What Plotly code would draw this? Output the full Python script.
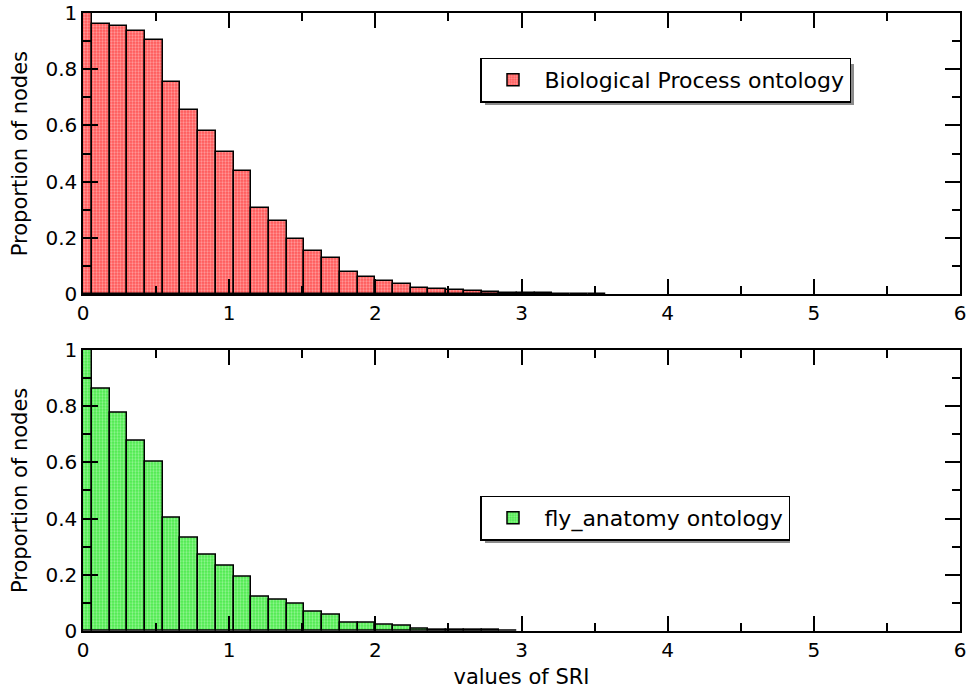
import plotly.graph_objects as go

# ---- data ----
bin_width = 0.1212
bp_values = [1.0, 0.962, 0.955, 0.935, 0.903, 0.755, 0.654, 0.582, 0.506, 0.438,
             0.308, 0.259, 0.197, 0.153, 0.128, 0.078, 0.062, 0.047, 0.036, 0.021,
             0.018, 0.014, 0.011, 0.007, 0.006, 0.004, 0.003, 0.002, 0.0015, 0.001]
fly_values = [1.0, 0.860, 0.775, 0.677, 0.601, 0.403, 0.333, 0.270, 0.233, 0.193,
              0.122, 0.112, 0.096, 0.070, 0.056, 0.029, 0.028, 0.021, 0.017, 0.008,
              0.006, 0.004, 0.003, 0.003, 0.001]
bp_bins = [round(i * bin_width, 4) for i in range(len(bp_values))]
fly_bins = [round(i * bin_width, 4) for i in range(len(fly_values))]

bp_name = "Biological Process ontology"
fly_name = "fly_anatomy ontology"
x_title = "values of SRI"
y_title = "Proportion of nodes"
x_ticks = [0, 1, 2, 3, 4, 5, 6]
y_ticks = [0, 0.2, 0.4, 0.6, 0.8, 1]

FONT = "DejaVu Sans"
W, H = 969, 693
ML, MR, MT, MB = 83, 9, 13, 62
PW, PH = W - ML - MR, H - MT - MB


def px_x(p):
    """page pixel x -> paper coordinate"""
    return (p - ML) / PW


def px_y(p):
    """page pixel y -> paper coordinate"""
    return (H - MB - p) / PH


fig = go.Figure()
fig.add_trace(go.Bar(
    x=bp_bins, y=bp_values, width=bin_width, name=bp_name,
    marker=dict(color="#ff5c5c", line=dict(color="black", width=1.5),
                pattern=dict(shape=".", size=3, solidity=0.45,
                             fgcolor="#ffd6d6", bgcolor="#ff5656", fillmode="overlay")),
    xaxis="x", yaxis="y", legend="legend", showlegend=True,
))
fig.add_trace(go.Bar(
    x=fly_bins, y=fly_values, width=bin_width, name=fly_name,
    marker=dict(color="#55ee55", line=dict(color="black", width=1.5),
                pattern=dict(shape=".", size=3, solidity=0.45,
                             fgcolor="#d6ffd6", bgcolor="#4aea4a", fillmode="overlay")),
    xaxis="x2", yaxis="y2", legend="legend2", showlegend=True,
))

axis_common = dict(
    showline=True, linecolor="black", linewidth=1.5, mirror="ticks",
    ticks="inside", ticklen=15, tickwidth=1.5, tickcolor="black",
    showgrid=False, zeroline=False, automargin=False, ticklabeloverflow="allow",
    layer="above traces",
    tickfont=dict(family=FONT, size=20, color="black"),
)
xaxis_cfg = dict(axis_common, range=[0, 6], tickvals=x_ticks,
                 minor=dict(ticks="inside", ticklen=8, tickwidth=1.5, tickcolor="black",
                            tickmode="linear", tick0=0, dtick=0.5, showgrid=False))
yaxis_cfg = dict(axis_common, range=[0, 1], tickvals=y_ticks,
                 minor=dict(ticks="inside", ticklen=8, tickwidth=1.5, tickcolor="black",
                            tickmode="linear", tick0=0, dtick=0.1, showgrid=False))

legend_common = dict(xanchor="left", yanchor="middle", bgcolor="white",
                     bordercolor="black", borderwidth=1.5, itemwidth=53,
                     font=dict(family=FONT, size=22, color="black"))

# legend drop shadows (grey boxes offset behind the legends), page pixels
shadows = [(485, 64, 854, 105), (485, 502, 790, 543)]
shapes = [dict(type="rect", xref="paper", yref="paper",
               x0=px_x(a), y0=px_y(b), x1=px_x(c), y1=px_y(d),
               fillcolor="#8c8c8c", line=dict(width=0), layer="above")
          for a, b, c, d in shadows]

fig.update_layout(
    width=W, height=H,
    margin=dict(l=ML, r=MR, t=MT, b=MB, autoexpand=False),
    paper_bgcolor="white", plot_bgcolor="white",
    font=dict(family=FONT, color="black"),
    bargap=0,
    xaxis=dict(xaxis_cfg, domain=[0, 1], anchor="y"),
    yaxis=dict(yaxis_cfg, domain=[0.545, 1], anchor="x",
               title=dict(text=y_title, font=dict(family=FONT, size=21), standoff=12)),
    xaxis2=dict(xaxis_cfg, domain=[0, 1], anchor="y2",
                title=dict(text=x_title, font=dict(family=FONT, size=21), standoff=9)),
    yaxis2=dict(yaxis_cfg, domain=[0, 0.455], anchor="x2",
                title=dict(text=y_title, font=dict(family=FONT, size=21), standoff=12)),
    legend=dict(legend_common, x=px_x(480), y=px_y(80)),
    legend2=dict(legend_common, x=px_x(480), y=px_y(518)),
    shapes=shapes,
)

# remove the default 8px page margin so the figure sits at the window's corner
fig.write_html("out.html",
               config={"displayModeBar": False},
               post_script="document.body.style.margin='0';document.body.style.overflow='hidden';")
